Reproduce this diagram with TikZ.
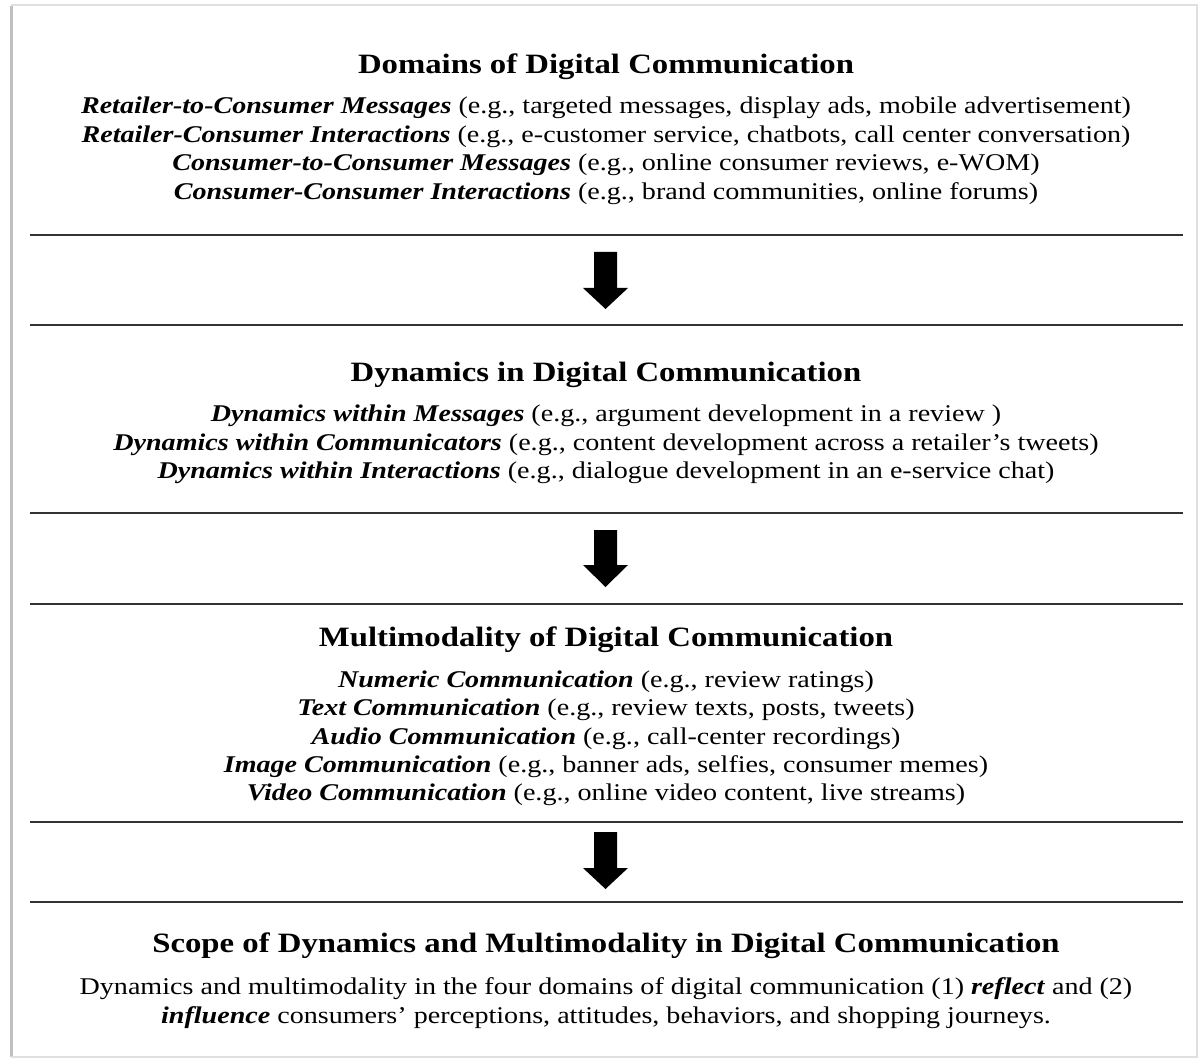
\documentclass[tikz,border=0pt]{standalone}
\usepackage{fontspec}
\setmainfont[FakeStretch=1.17]{Liberation Serif}
\begin{document}
\begin{tikzpicture}[x=1pt,y=-1pt,
  txt/.style={anchor=base,inner sep=0pt,font=\fontsize{24}{28}\selectfont},
  ttl/.style={anchor=base,inner sep=0pt,font=\fontsize{28}{32}\selectfont\bfseries},
  rule/.style={line width=2.2pt,draw=black!80},
  bigarrow/.style={fill=black,draw=none}]
\useasboundingbox (0,0) rectangle (1199,1059);
\fill[white] (0,0) rectangle (1199,1059);
% frame with shadow
\draw[line width=3pt,black!25] (11,6) -- (11,1057);
\draw[line width=1.2pt,black!12] (11,5) -- (1197,5) -- (1197,1057) -- (11,1057);
\newcommand{\bi}[1]{\textbf{\textit{#1}}}
% section 1
\node[ttl] (t1) at (606,74) {Domains of Digital Communication};
\node[txt] (a1) at (606,114) {\bi{Retailer-to-Consumer Messages} (e.g., targeted messages, display ads, mobile advertisement)};
\node[txt] (a2) at (606,143) {\bi{Retailer-Consumer Interactions} (e.g., e-customer service, chatbots, call center conversation)};
\node[txt] (a3) at (606,171) {\bi{Consumer-to-Consumer Messages} (e.g., online consumer reviews, e-WOM)};
\node[txt] (a4) at (606,200) {\bi{Consumer-Consumer Interactions} (e.g., brand communities, online forums)};
\coordinate (r1l) at (30,235); \coordinate (r1r) at (1183,235);
\draw[rule] (r1l) -- (r1r);
\fill[bigarrow] (594,252) -- (617,252) -- (617,288) -- (628,288) -- (605.5,309) -- (583,288) -- (594,288) -- cycle;
\coordinate (r2l) at (30,325); \coordinate (r2r) at (1183,325);
\draw[rule] (r2l) -- (r2r);
% section 2
\node[ttl] (t2) at (606,381) {Dynamics in Digital Communication};
\node[txt] (b1) at (606,421) {\bi{Dynamics within Messages} (e.g., argument development in a review )};
\node[txt] (b2) at (606,450) {\bi{Dynamics within Communicators} (e.g., content development across a retailer’s tweets)};
\node[txt] (b3) at (606,478) {\bi{Dynamics within Interactions} (e.g., dialogue development in an e-service chat)};
\coordinate (r3l) at (30,513); \coordinate (r3r) at (1183,513);
\draw[rule] (r3l) -- (r3r);
\fill[bigarrow] (594,530) -- (617,530) -- (617,565) -- (628,565) -- (605.5,587) -- (583,565) -- (594,565) -- cycle;
\coordinate (r4l) at (30,604); \coordinate (r4r) at (1183,604);
\draw[rule] (r4l) -- (r4r);
% section 3
\node[ttl] (t3) at (606,646) {Multimodality of Digital Communication};
\node[txt] (c1) at (606,687) {\bi{Numeric Communication} (e.g., review ratings)};
\node[txt] (c2) at (606,715) {\bi{Text Communication} (e.g., review texts, posts, tweets)};
\node[txt] (c3) at (606,744) {\bi{Audio Communication} (e.g., call-center recordings)};
\node[txt] (c4) at (606,772) {\bi{Image Communication} (e.g., banner ads, selfies, consumer memes)};
\node[txt] (c5) at (606,800) {\bi{Video Communication} (e.g., online video content, live streams)};
\coordinate (r5l) at (30,822); \coordinate (r5r) at (1183,822);
\draw[rule] (r5l) -- (r5r);
\fill[bigarrow] (594,832) -- (617,832) -- (617,868) -- (628,868) -- (605.5,889) -- (583,868) -- (594,868) -- cycle;
\coordinate (r6l) at (30,902); \coordinate (r6r) at (1183,902);
\draw[rule] (r6l) -- (r6r);
% section 4
\node[ttl] (t4) at (606,952) {Scope of Dynamics and Multimodality in Digital Communication};
\node[txt] (d1) at (606,994) {Dynamics and multimodality in the four domains of digital communication (1) \bi{reflect} and (2)};
\node[txt] (d2) at (606,1023) {\bi{influence} consumers’ perceptions, attitudes, behaviors, and shopping journeys.};
\end{tikzpicture}
\end{document}
